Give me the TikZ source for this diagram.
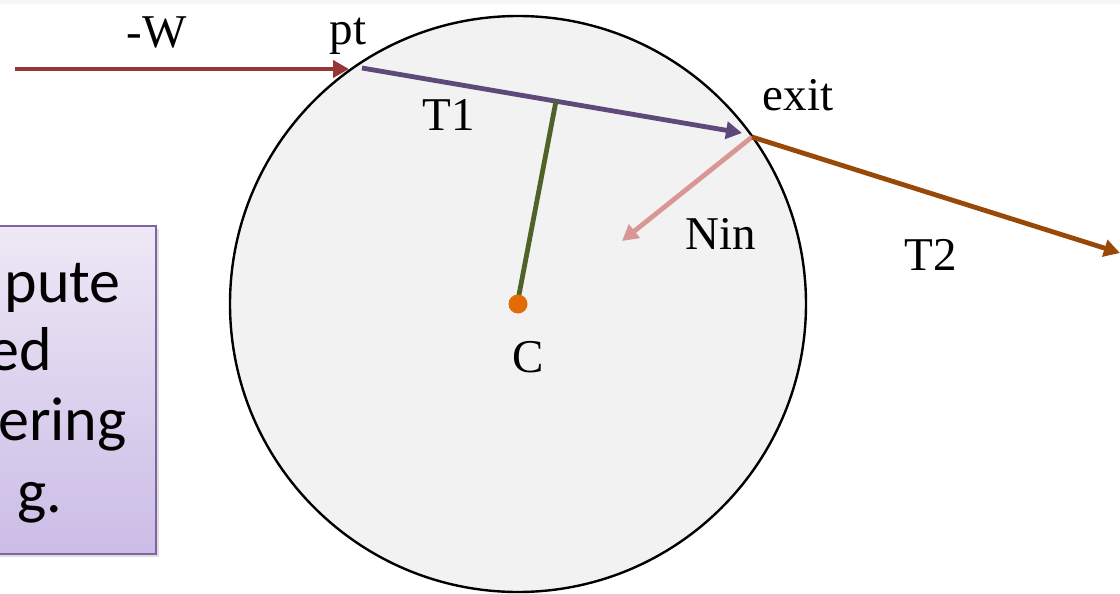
\documentclass[tikz,border=0pt]{standalone}
\usepackage{fontspec}
\setmainfont{Liberation Serif}
\newfontfamily\boxfont{Carlito}
\usetikzlibrary{arrows.meta,shadows}
\definecolor{wred}{HTML}{953735}
\definecolor{tpurple}{HTML}{5F497A}
\definecolor{ngreen}{HTML}{4F6228}
\definecolor{corange}{HTML}{E36C09}
\definecolor{ninpink}{HTML}{D99694}
\definecolor{tbrown}{HTML}{984807}
\definecolor{ballfill}{HTML}{F2F2F2}
\definecolor{boxtop}{HTML}{EEE8F6}
\definecolor{boxbot}{HTML}{CBBCE6}
\definecolor{boxedge}{HTML}{8064A2}
\tikzset{
  lbl/.style={font=\fontsize{23.5pt}{28pt}\selectfont, inner sep=0pt, anchor=base},
  boxtxt/.style={font=\boxfont\fontsize{31pt}{35pt}\selectfont, inner sep=0pt, anchor=base east},
  vec/.style={line width=2.4pt, -{Triangle[length=8pt,width=8.5pt]}},
}
\begin{document}
\begin{tikzpicture}[x=0.5pt,y=-0.5pt]
\clip (0,0) rectangle (1120,594);
\fill[white] (0,0) rectangle (1120,594);
\fill[gray!6] (0,0) rectangle (1120,4);
% text box (cut by the left edge)
\node[draw=boxedge, line width=1pt, top color=boxtop, bottom color=boxbot,
      minimum width=170pt, minimum height=164pt, anchor=north east, inner sep=0pt,
      drop shadow={shadow xshift=1.5pt, shadow yshift=-1.5pt, opacity=0.25}]
      (box) at (157,225) {};
\node[boxtxt] (l1) at (121,302) {mpute};
\node[boxtxt] (l2) at (52,370) {ed};
\node[boxtxt] (l3) at (127,440) {ering};
\node[boxtxt] (l4) at (63,512) {g.};
% ball
\node[circle, draw=black, line width=1.2pt, fill=ballfill, minimum size=288pt, inner sep=0pt] (ball) at (518,304) {};
% points
\coordinate (wstart) at (15,69);
\coordinate (wend) at (349,69);
\coordinate (pt) at (362,68);
\coordinate (t1end) at (742,133);
\coordinate (exit) at (752,137);
\coordinate (foot) at (556,101);
\coordinate (ninend) at (622,241);
\coordinate (t2end) at (1120,253);
% vectors
\draw[vec, wred] (wstart) -- (wend);
\draw[vec, tpurple] (pt) -- (t1end);
\draw[line width=2.4pt, ngreen] (foot) -- (518,300);
\draw[vec, ninpink] (exit) -- (ninend);
\draw[vec, tbrown] (exit) -- (t2end);
\node[circle, fill=corange, minimum size=9.5pt, inner sep=0pt] (c) at (518,304) {};
% labels
\node[lbl] (lw) at (157,47) {-W};
\node[lbl] (lpt) at (348,45) {pt};
\node[lbl] (lt1) at (449,130) {T1};
\node[lbl] (lexit) at (798,110) {exit};
\node[lbl] (lnin) at (721,249) {Nin};
\node[lbl] (lt2) at (931,270) {T2};
\node[lbl] (lc) at (528,372) {C};
\end{tikzpicture}
\end{document}
